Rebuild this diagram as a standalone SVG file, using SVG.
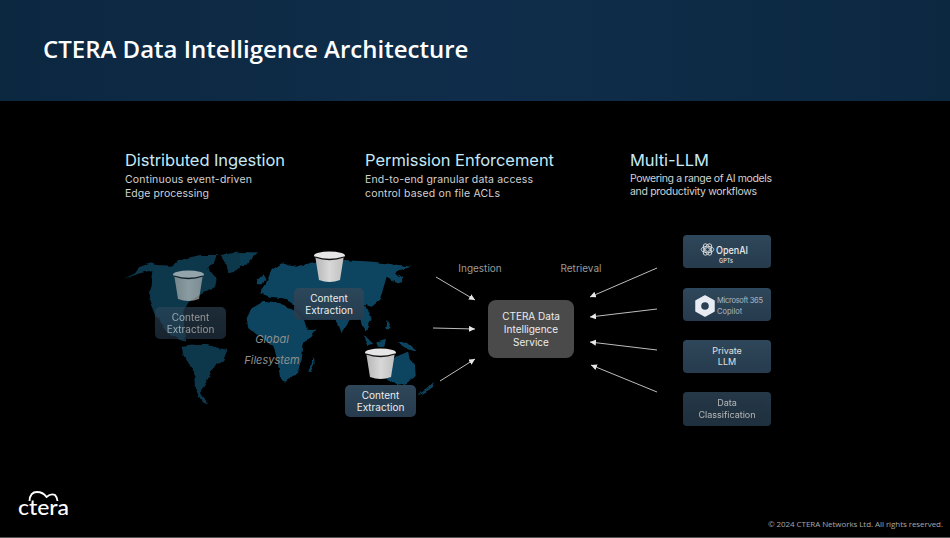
<svg xmlns="http://www.w3.org/2000/svg" xmlns:xlink="http://www.w3.org/1999/xlink" width="950" height="538" viewBox="0 0 950 538">
<style>
text{font-family:"Inter","Noto Sans","Liberation Sans",sans-serif}
.h{font-size:16.5px;fill:#c4e8f6}
.s{font-size:10.500px;fill:#d2d2d2}
.n{font-size:10px;fill:#ececec;text-anchor:middle}
.m{font-size:9px;fill:#e0e0e0;text-anchor:middle}
.l{font-size:10px;fill:#9a9a9a;text-anchor:middle}
.g{font-size:11px;fill:#8f8f8f;text-anchor:middle;font-style:italic}
.a{stroke:#bdbdbd;stroke-width:1;fill:none;marker-end:url(#ah)}
.box{fill:url(#bg)}
</style>
<defs>
<linearGradient id="hd" x1="0" x2="1" y1="0" y2="0"><stop offset="0" stop-color="#0c2740"/><stop offset=".5" stop-color="#0f2d4a"/><stop offset="1" stop-color="#0c2841"/></linearGradient>
<linearGradient id="bg" x1="0" x2="0" y1="0" y2="1"><stop offset="0" stop-color="#2f475a"/><stop offset="1" stop-color="#263b4d"/></linearGradient>
<linearGradient id="bk" x1="0" x2="1" y1="0" y2="0"><stop offset="0" stop-color="#b5b5b5"/><stop offset=".5" stop-color="#d8d8d8"/><stop offset="1" stop-color="#c0c0c0"/></linearGradient>
<filter id="coast" x="-5%" y="-5%" width="110%" height="110%">
<feTurbulence type="fractalNoise" baseFrequency=".12" numOctaves="2" seed="4"/>
<feDisplacementMap in="SourceGraphic" scale="4" xChannelSelector="R" yChannelSelector="G"/>
<feGaussianBlur stdDeviation=".3"/>
</filter>
<marker id="ah" markerWidth="7" markerHeight="7" refX="6" refY="3" orient="auto" markerUnits="userSpaceOnUse"><path d="M0,0L6,3L0,6Z" fill="#e8e8e8"/></marker>
<g id="bucket">
<path d="M1,4 L5,29 Q15.500,33 26,29 L30,4 Z" fill="url(#bk)"/>
<ellipse cx="15.500" cy="4.500" rx="15.500" ry="4" fill="#e6e6e6"/>
<path d="M1,6 Q15.500,11 30,6" fill="none" stroke="#111" stroke-width="1.300"/>
</g>
</defs>
<rect width="950" height="538" fill="#000"/>
<rect width="950" height="101" fill="url(#hd)"/>
<rect y="537" width="950" height="1" fill="#555"/>
<text x="43" y="58" font-size="24" font-weight="600" fill="#fff" style="font-family:'Open Sans','Noto Sans',sans-serif">CTERA Data Intelligence Architecture</text>

<g id="map" filter="url(#coast)">
<g transform="translate(120 245) scale(.33333)" fill="#0b374c">
<path d="M10,102 L45,85 L60,65 L90,55 L110,60 L160,62 L175,48 L200,40 L240,30 L290,30 L280,60 L265,65 L270,80 L290,105 L285,125 L265,135 L240,150 L210,170 L190,195 L195,290 L150,270 L110,215 L100,190 L85,150 L95,120 L100,75 L60,85 Z"/>
<path d="M300,30 L360,22 L412,22 L385,40 L345,80 L325,85 L320,60 Z"/>
<path d="M185,305 L230,300 L265,300 L322,315 L310,345 L280,365 L265,400 L240,445 L265,480 L245,470 L225,430 L222,380 L190,330 Z"/>
</g>
<g transform="translate(240 245) scale(.33333)" fill="#0d4560">
<path d="M0,22 L52,25 L30,45 L15,65 L0,60 Z" fill="#0b3c53"/>
<path d="M20,220 L35,190 L70,170 L110,175 L160,195 L195,225 L205,255 L230,250 L205,280 L190,300 L185,345 L170,385 L135,410 L120,395 L112,345 L100,300 L60,275 L25,250 Z"/>
<path d="M80,110 L95,75 L125,55 L165,65 L225,50 L310,45 L400,50 L515,65 L480,75 L465,85 L490,110 L475,115 L440,95 L430,130 L420,165 L395,185 L375,180 L395,225 L375,260 L360,225 L330,225 L305,265 L290,225 L240,220 L205,225 L165,180 L130,160 L90,155 L60,145 L75,125 Z"/>
<path d="M52,105 L70,88 L78,100 L68,118 L50,118 Z M475,88 L490,100 L480,112 Z M205,380 L222,335 L224,355 L212,380 Z M370,270 L400,300 L385,302 Z M440,225 L452,250 L435,250 Z M470,293 L500,293 L532,320 L500,312 Z M410,290 L435,282 L430,305 L410,305 Z M465,335 L500,320 L510,335 L525,360 L527,390 L500,415 L470,420 L440,400 L440,350 Z M530,452 L560,432 L582,410 L575,430 L550,445 Z"/>
</g>
</g>

<g id="connectors">
<path class="a" d="M436,277L475,300"/>
<path class="a" d="M433,328L475,329"/>
<path class="a" d="M440,381L475,359"/>
<path class="a" d="M657,268L590,297"/>
<path class="a" d="M657,309L590,317"/>
<path class="a" d="M657,350L590,342"/>
<path class="a" d="M657,392L591,365"/>
</g>

<g id="global-filesystem">
<text class="g" x="272" y="343">Global</text>
<text class="g" x="272" y="364">Filesystem</text>
</g>
<text class="l" x="480" y="272">Ingestion</text>
<text class="l" x="581" y="272">Retrieval</text>

<g id="extraction-americas" opacity=".62">
<use xlink:href="#bucket" href="#bucket" x="173" y="270"/>
<rect class="box" x="155" y="307" width="71" height="32" rx="5"/>
<text class="n" x="190.500" y="321">Content</text><text class="n" x="190.500" y="333">Extraction</text>
</g>
<g id="extraction-asia">
<use xlink:href="#bucket" href="#bucket" x="314" y="251"/>
<rect class="box" x="294" y="288" width="70" height="32" rx="5" opacity=".92"/>
<text class="n" x="329" y="302">Content</text><text class="n" x="329" y="314">Extraction</text>
</g>
<g id="extraction-oceania">
<use xlink:href="#bucket" href="#bucket" x="365" y="348"/>
<rect class="box" x="345" y="385" width="71" height="32" rx="5"/>
<text class="n" x="380.500" y="399">Content</text><text class="n" x="380.500" y="411">Extraction</text>
</g>

<g id="service">
<rect x="488" y="300" width="86" height="58" rx="8" fill="#4a4a4a"/>
<text class="n" x="531" y="320">CTERA Data</text>
<text class="n" x="531" y="333">Intelligence</text>
<text class="n" x="531" y="346">Service</text>
</g>

<g id="openai">
<rect class="box" x="683" y="235" width="88" height="33" rx="4"/>
<g fill="none" stroke="#e8e8e8" stroke-width=".8">
<circle cx="707.500" cy="249.500" r="2"/>
<ellipse cx="707.500" cy="249.500" rx="6.300" ry="3.200"/>
<ellipse cx="707.500" cy="249.500" rx="6.300" ry="3.200" transform="rotate(60 707.500 249.500)"/>
<ellipse cx="707.500" cy="249.500" rx="6.300" ry="3.200" transform="rotate(120 707.500 249.500)"/>
</g>
<text x="716" y="253.500" font-size="10.500" font-weight="500" fill="#e8e8e8" textLength="32" lengthAdjust="spacingAndGlyphs">OpenAI</text>
<text x="726" y="263" font-size="5.500" font-weight="600" fill="#d8d8d8" text-anchor="middle">GPTs</text>
</g>
<g id="copilot">
<rect class="box" x="683" y="288" width="88" height="33" rx="4"/>
<path d="M705,296L714,301V311L705,316L696,311V301Z" fill="#e8ecf2" stroke="#e8ecf2" stroke-width="1.500" stroke-linejoin="round"/>
<circle cx="705" cy="306" r="3.800" fill="#2a4052"/>
<text x="717" y="303" font-size="7.500" fill="#aeb8c0" textLength="46">Microsoft 365</text>
<text x="717" y="314" font-size="7.500" fill="#aeb8c0">Copilot</text>
</g>
<g id="private-llm">
<rect class="box" x="683" y="340" width="88" height="33" rx="4"/>
<text class="m" x="727" y="354">Private</text><text class="m" x="727" y="365">LLM</text>
</g>
<g id="classification" opacity=".8">
<rect class="box" x="683" y="392" width="88" height="34" rx="4"/>
<text class="m" x="727" y="406">Data</text><text class="m" x="727" y="418">Classification</text>
</g>

<g id="headings">
<text class="h" x="125" y="166" textLength="160">Distributed Ingestion</text>
<text class="s" x="125" y="182.500" textLength="127">Continuous event-driven</text>
<text class="s" x="125" y="197" textLength="84">Edge processing</text>
<text class="h" x="365" y="166" textLength="189">Permission Enforcement</text>
<text class="s" x="365" y="182.500" textLength="168">End-to-end granular data access</text>
<text class="s" x="365" y="197" textLength="135">control based on file ACLs</text>
<text class="h" x="630" y="166" textLength="79">Multi-LLM</text>
<text class="s" x="630" y="182" textLength="142">Powering a range of AI models</text>
<text class="s" x="630" y="195" textLength="127">and productivity workflows</text>
</g>

<g id="logo">
<path d="M29.500,501 Q30,492 37,492 Q43,492 46.500,497 Q51,493 55,495 Q57,497 57.500,501" fill="none" stroke="#fff" stroke-width="1.800"/>
<text x="18" y="514.500" font-size="22" fill="#fff" font-weight="500" textLength="51" lengthAdjust="spacingAndGlyphs" style="font-family:'Lato','Noto Sans',sans-serif">ctera</text>
</g>
<text x="768" y="526.500" font-size="8" fill="#a8a8a8" textLength="175" style="font-family:'Open Sans','Noto Sans',sans-serif">© 2024 CTERA Networks Ltd. All rights reserved.</text>
</svg>
